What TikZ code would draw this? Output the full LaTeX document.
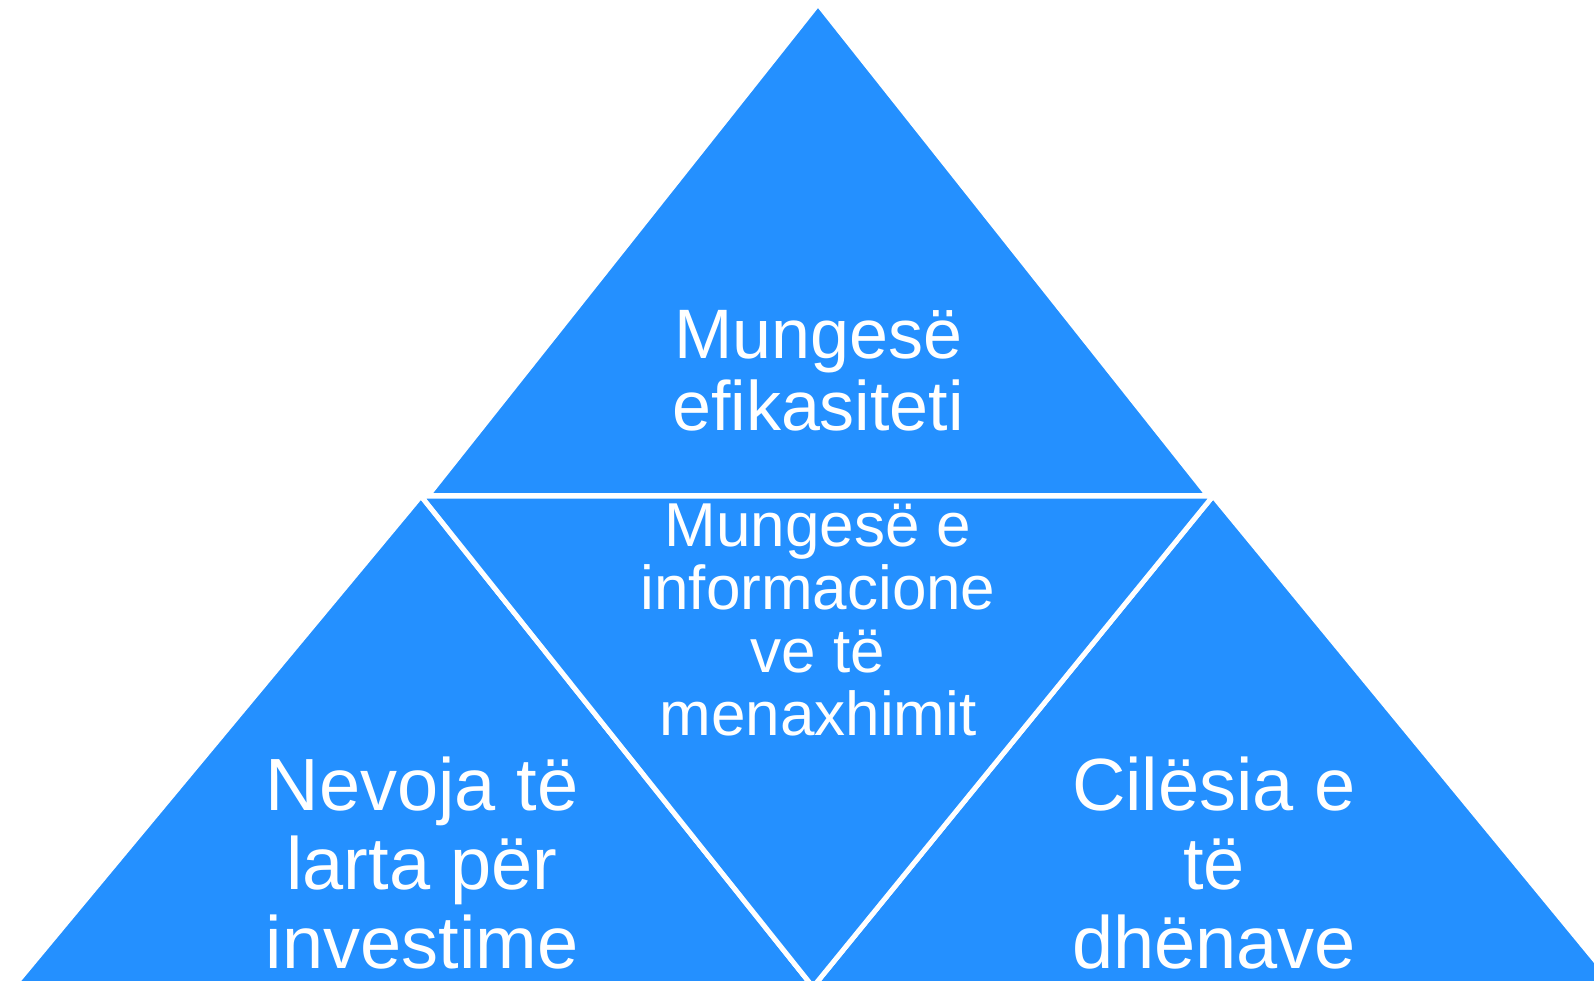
\documentclass[tikz,border=0pt]{standalone}
\usepackage{fontspec}
\setmainfont{Liberation Sans}
\definecolor{segblue}{RGB}{36,144,255}
\tikzset{
  seg/.style={fill=segblue, draw=white, line width=5pt, line join=miter},
  lbl/.style={text=white, align=center, anchor=base, inner sep=0pt},
}
\begin{document}
\begin{tikzpicture}[x=1pt,y=-1pt]
\useasboundingbox (0,0) rectangle (1594,981);
\clip (0,0) rectangle (1594,981);
% segments
\path[seg] (818,4) -- (428,495.5) -- (1208,495.5) -- cycle;
\path[seg] (421,496) -- (13,987) -- (813,987) -- cycle;
\path[seg] (1213,496) -- (813,987) -- (1617,987) -- cycle;
\path[seg] (421,496) -- (1213,496) -- (813,987) -- cycle;
% labels (base anchor = baseline of last line)
\node[lbl, font=\fontsize{70}{72}\selectfont] (top) at (818,430) {Mungesë\\efikasiteti};
\node[lbl, font=\fontsize{62}{63}\selectfont] (mid) at (818,735) {Mungesë e\\informacione\\ve të\\menaxhimit};
\node[lbl, font=\fontsize{74}{79}\selectfont] (left) at (422,968) {Nevoja të\\larta për\\investime};
\node[lbl, font=\fontsize{74}{79}\selectfont] (right) at (1214,968) {Cilësia e\\të\\dhënave};
\end{tikzpicture}
\end{document}
